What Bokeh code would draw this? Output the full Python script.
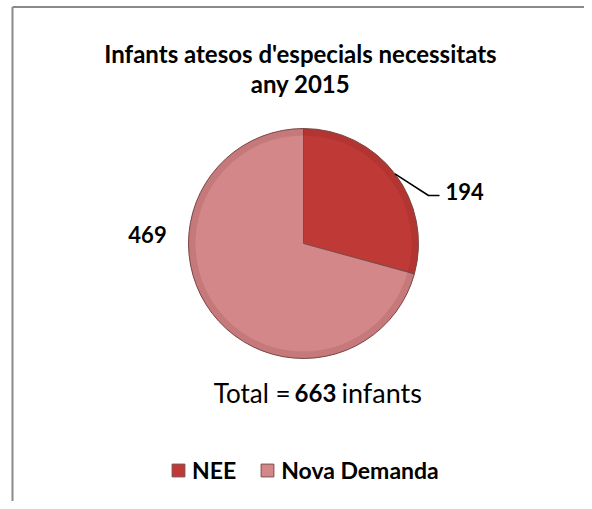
import math
from bokeh.plotting import figure
from bokeh.models import (ColumnDataSource, Range1d, Label, Legend, LegendItem)
from bokeh.embed import file_html
from bokeh.resources import INLINE

# ---- data ----
categories = ["NEE", "Nova Demanda"]
values = [194, 469]
colors = ["#BF3A36", "#D48788"]
title_lines = ["Infants atesos d'especials necessitats", "any 2015"]

total = sum(values)

# ---- layout (screenshot pixel coords; y converted for Bokeh's upward axis) ----
W, H = 584, 501
def Y(py):
    return H - py

cx, cy, R = 303, Y(243), 115
FONT = "Lato"

fracs = [v / total for v in values]
starts, ends = [], []
a = math.pi / 2
for f in fracs:
    starts.append(a)
    a -= 2 * math.pi * f
    ends.append(a)

src = ColumnDataSource(dict(cat=categories, val=values, color=colors,
                            start=starts, end=ends))

p = figure(width=W, height=H, x_range=Range1d(0, W), y_range=Range1d(0, H),
           output_backend="svg", toolbar_location=None, min_border=0)
p.axis.visible = False
p.grid.visible = False
p.outline_line_color = None
p.background_fill_color = "white"
p.border_fill_color = "white"

# chart border (top and left only visible)
p.segment(x0=[12, 12], y0=[Y(6.5), Y(6.5)], x1=[W, 12], y1=[Y(6.5), Y(520)],
          line_color="#8a8a8a", line_width=2)

wr = p.wedge(x=cx, y=cy, radius=R, radius_units="screen",
             start_angle="start", end_angle="end", direction="clock",
             fill_color="color", line_color="#7d4a48", line_width=1, source=src)
# bevel shading
p.annular_wedge(x=cx, y=cy, inner_radius=R - 7, outer_radius=R,
                inner_radius_units="screen", outer_radius_units="screen",
                start_angle="start", end_angle="end", direction="clock",
                fill_color="#5a1a1a", fill_alpha=0.12, line_color=None, source=src)

# title
p.add_layout(Label(x=300, y=Y(53), text=title_lines[0], text_align="center",
                   text_baseline="middle", text_font=FONT, text_font_style="bold",
                   text_font_size="24px", text_color="black"))
p.add_layout(Label(x=300, y=Y(83), text=title_lines[1], text_align="center",
                   text_baseline="middle", text_font=FONT, text_font_style="bold",
                   text_font_size="24px", text_color="black"))

# data label for NEE with leader line
mid0 = (starts[0] + ends[0]) / 2
ex, ey = cx + R * math.cos(mid0), cy + R * math.sin(mid0)
p.line(x=[ex, 428, 439], y=[ey, Y(195), Y(195)], line_color="black", line_width=1.5)
p.add_layout(Label(x=445, y=Y(191), text=str(values[0]), text_align="left",
                   text_baseline="middle", text_font=FONT, text_font_style="bold",
                   text_font_size="22px", text_color="black"))
# data label for Nova Demanda
p.add_layout(Label(x=147, y=Y(234), text=str(values[1]), text_align="center",
                   text_baseline="middle", text_font=FONT, text_font_style="bold",
                   text_font_size="22px", text_color="black"))

# total text
p.add_layout(Label(x=290, y=Y(392), text="Total =", text_align="right",
                   text_baseline="middle", text_font=FONT,
                   text_font_size="26px", text_color="black"))
p.add_layout(Label(x=315, y=Y(392), text=str(total), text_align="center",
                   text_baseline="middle", text_font=FONT, text_font_style="bold",
                   text_font_size="24px", text_color="black"))
p.add_layout(Label(x=341, y=Y(392), text="infants", text_align="left",
                   text_baseline="middle", text_font=FONT,
                   text_font_size="27px", text_color="black"))

legend = Legend(items=[LegendItem(label=categories[0], renderers=[wr], index=0),
                       LegendItem(label=categories[1], renderers=[wr], index=1)],
                orientation="horizontal", location=(170, 17),
                glyph_width=16, glyph_height=16, label_standoff=6, spacing=23,
                padding=0, margin=0, border_line_color=None,
                background_fill_alpha=0,
                label_text_font=FONT, label_text_font_style="bold",
                label_text_font_size="23px", label_text_color="black")
p.add_layout(legend)

open("out.html", "w").write(file_html(p, INLINE))
